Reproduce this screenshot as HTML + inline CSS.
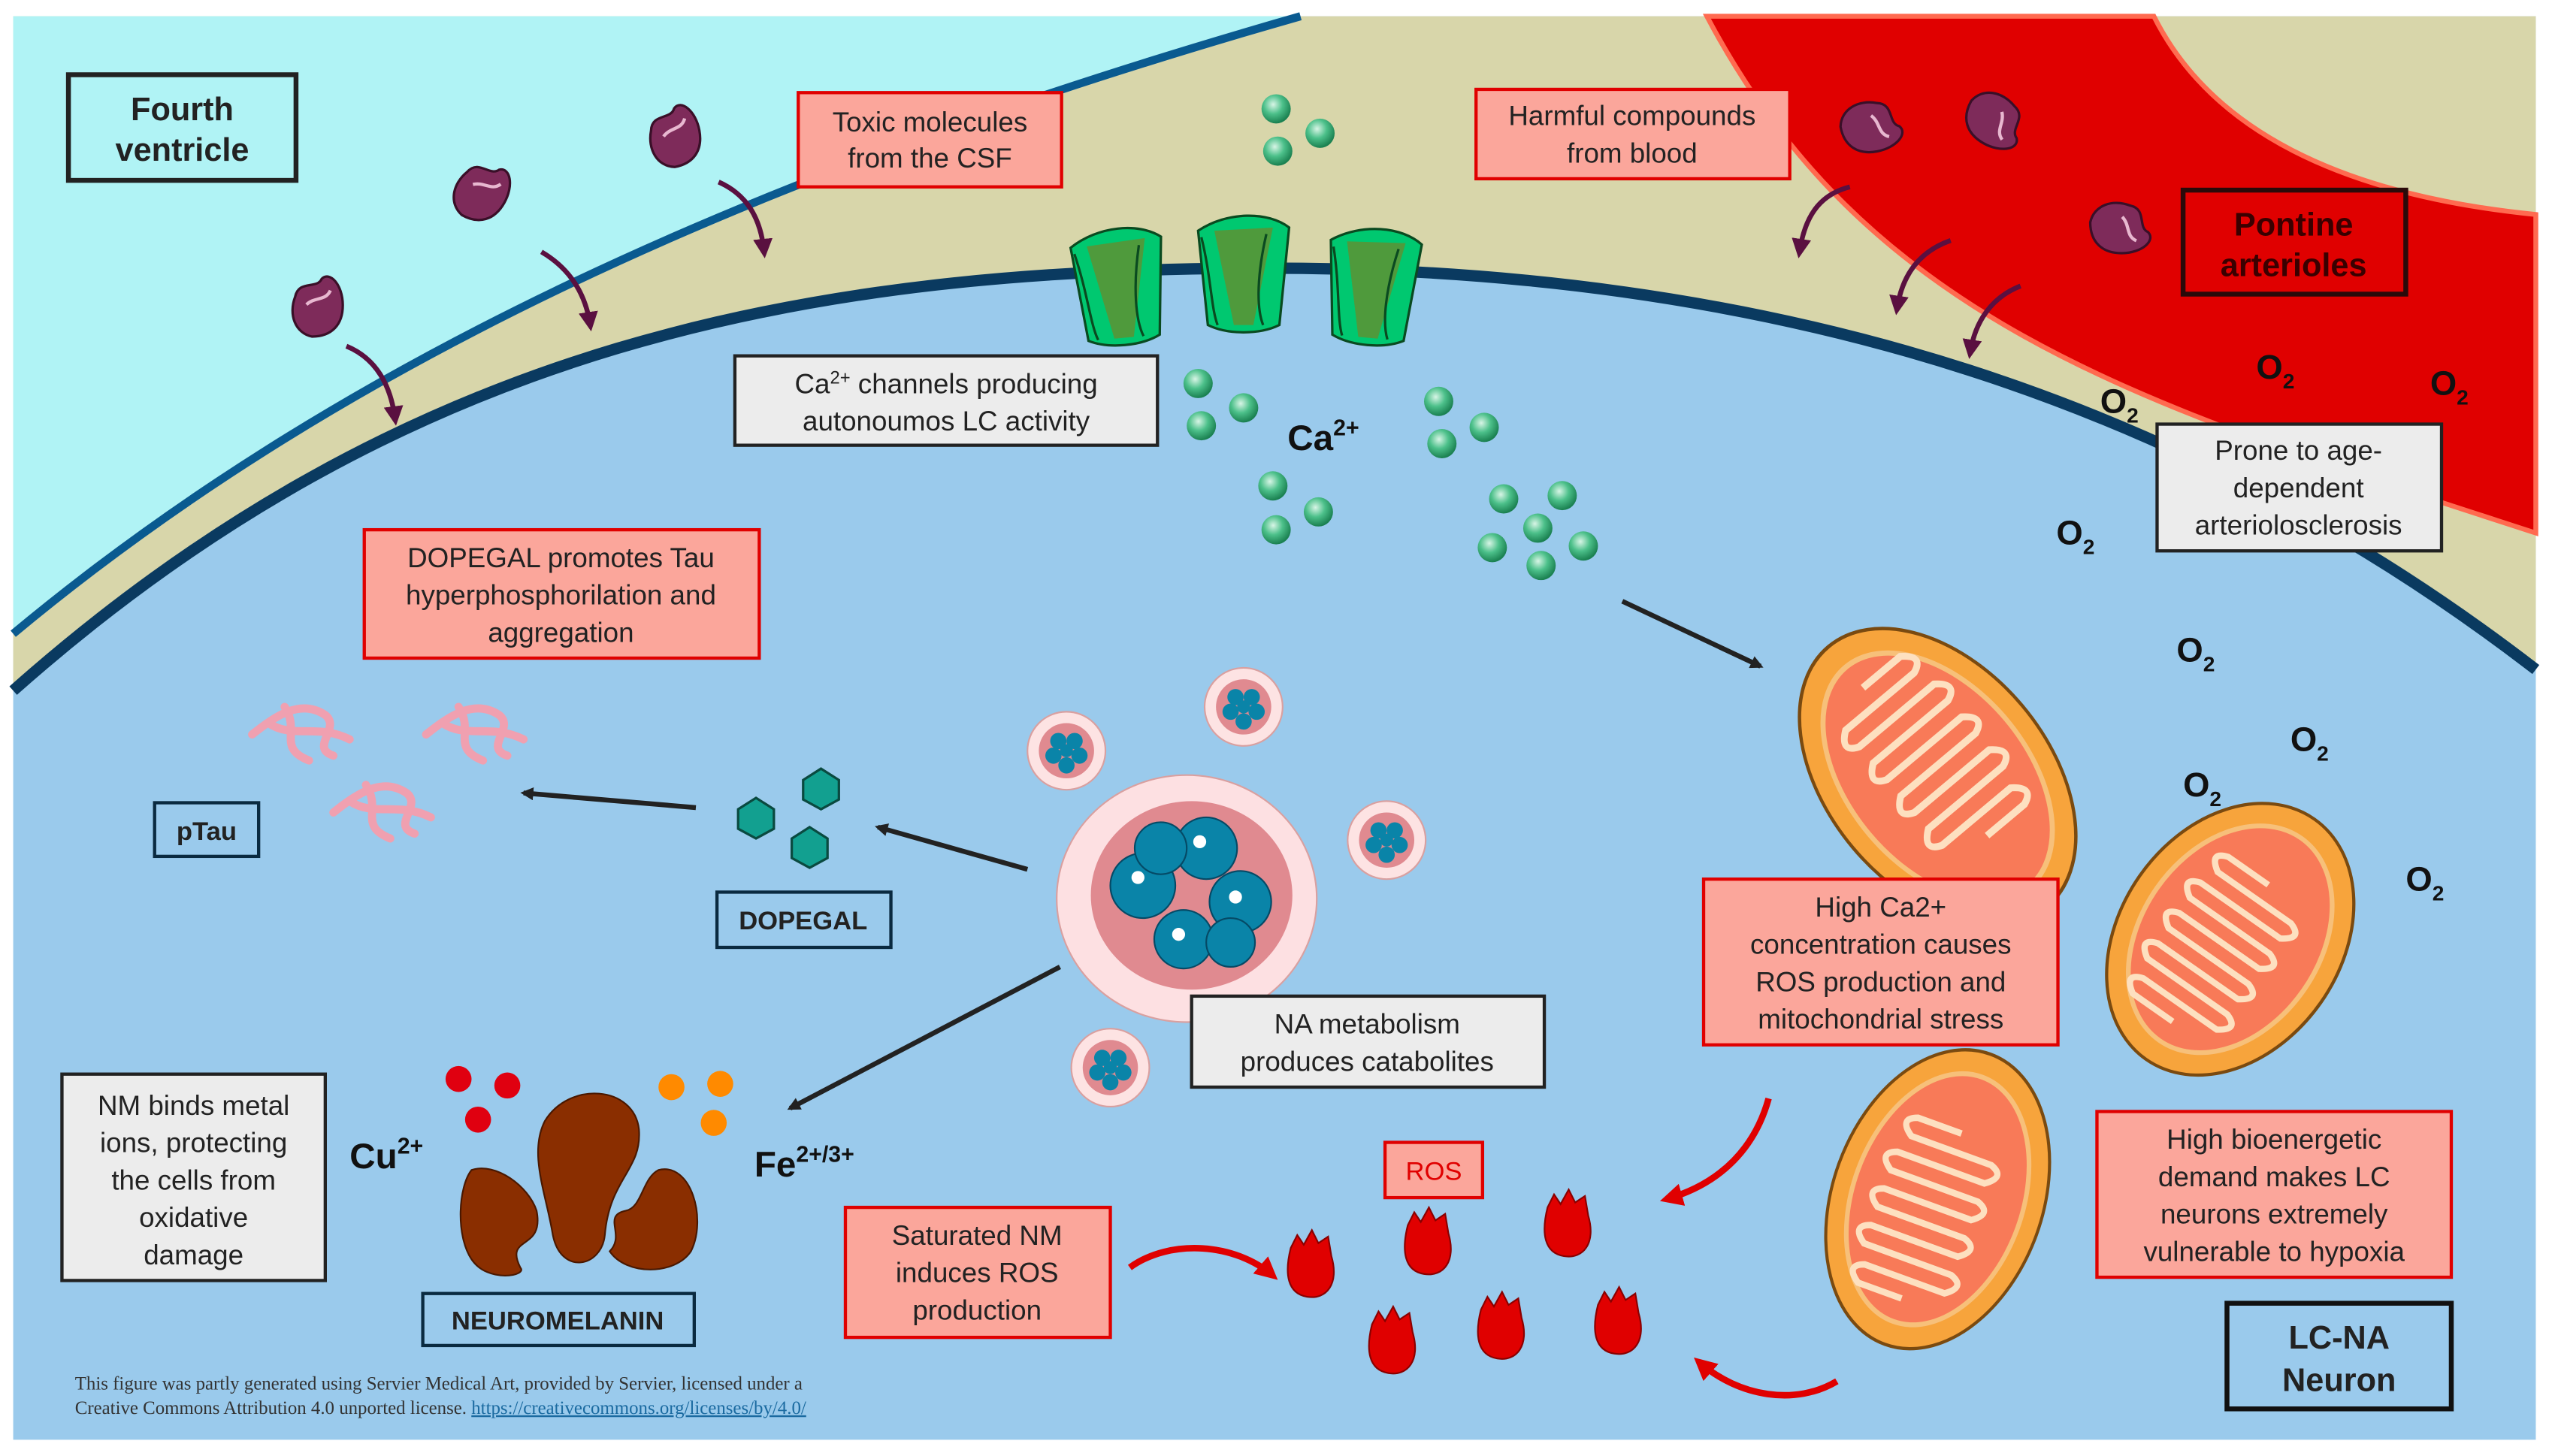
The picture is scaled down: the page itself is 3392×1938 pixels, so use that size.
<!DOCTYPE html>
<html><head><meta charset="utf-8"><style>
html,body{margin:0;padding:0;background:#fff;}
svg{display:block}
text{font-family:"Liberation Sans",Arial,sans-serif;}
</style></head><body>
<svg width="3392" height="1938" viewBox="0 0 1568 896" xmlns="http://www.w3.org/2000/svg">
<defs>
<marker id="ab" markerWidth="8" markerHeight="8" refX="6" refY="4" orient="auto" markerUnits="userSpaceOnUse"><path d="M0,0 L8,4 L0,8 z" fill="#222"/></marker>
<marker id="ar" markerWidth="14" markerHeight="14" refX="10" refY="7" orient="auto" markerUnits="userSpaceOnUse"><path d="M0,0 L14,7 L0,14 z" fill="#e00000"/></marker>
<marker id="ap" markerWidth="12" markerHeight="12" refX="8" refY="6" orient="auto" markerUnits="userSpaceOnUse"><path d="M0,0 L12,6 L0,12 z" fill="#5a1040"/></marker>
<radialGradient id="gd" cx="40%" cy="35%" r="65%"><stop offset="0" stop-color="#d8f5e6"/><stop offset="0.5" stop-color="#4cc08a"/><stop offset="1" stop-color="#1a8050"/></radialGradient>
<g id="ves"><circle r="24" fill="#fde3e3" stroke="#d9a0a0" stroke-width="1"/><circle r="17" fill="#e08a90"/><circle cx="-5" cy="-6" r="5" fill="#0a84a8"/><circle cx="5" cy="-6" r="5" fill="#0a84a8"/><circle cx="-8" cy="3" r="5" fill="#0a84a8"/><circle cx="8" cy="3" r="5" fill="#0a84a8"/><circle cx="0" cy="9" r="5" fill="#0a84a8"/><circle cx="0" cy="0" r="4" fill="#0a84a8"/></g>
<g id="mol"><path d="M-14,-10 C-10,-20 0,-12 4,-18 C10,-22 16,-12 14,0 C12,12 4,18 -8,16 C-18,12 -20,0 -14,-10 z" fill="#7e2b5a" stroke="#3a0f28" stroke-width="1.5"/><path d="M-8,-4 C-2,-8 4,-4 8,-10" stroke="#e8b8d0" stroke-width="2" fill="none"/></g>
<g id="ch"><path d="M-28,-18 C-10,-30 15,-30 28,-20 L22,40 C10,46 -10,46 -22,40 z" fill="#00c870" stroke="#0a4a20" stroke-width="1.5"/><path d="M-18,-18 L18,-20 L6,40 L-6,40 z" fill="#4f9a3c"/><path d="M-26,-14 C-20,10 -20,30 -16,40" stroke="#0a4a20" fill="none" stroke-width="1.5"/><path d="M14,-16 C8,10 8,30 12,40" stroke="#0a4a20" fill="none" stroke-width="1.5"/></g>
<g id="mito"><ellipse rx="95" ry="68" fill="#f7a43c" stroke="#7a4a10" stroke-width="2"/><ellipse rx="80" ry="55" fill="#f87a58" stroke="#f7c07a" stroke-width="3"/><path d="M-65,0 l0,-30 q8,-12 12,0 l0,55 q8,12 12,0 l0,-60 q8,-12 12,0 l0,60 q8,12 12,0 l0,-60 q8,-12 12,0 l0,60 q8,12 12,0 l0,-60 q8,-12 12,0 l0,60 q8,12 12,0 l0,-55 q8,-12 12,0 l0,30" stroke="#fde0c0" stroke-width="4" fill="none"/></g>
<g id="ros"><path d="M-14,-12 l4,-8 l4,6 l5,-9 l4,8 l6,-4 l2,12 C16,10 8,20 -4,18 C-16,16 -18,4 -14,-12 z" fill="#e00000" stroke="#8a0000" stroke-width="1"/></g>
</defs>
<rect width="1568" height="896" fill="#fff"/>
<!-- backgrounds -->
<rect x="8" y="10" width="1552" height="876" fill="#9acaec"/>
<path d="M8,10 L1560,10 L1560,412 C1350,250 1100,165 780,165 C500,165 250,210 8,425 z" fill="#d8d6aa"/>
<path d="M8,10 L800,10 C450,110 200,230 8,390 z" fill="#b0f3f5"/>
<path d="M8,390 C200,230 450,110 800,10" stroke="#0a5a90" stroke-width="5" fill="none"/>
<path d="M1050,10 L1325,10 C1360,80 1440,120 1560,132 L1560,328 C1320,250 1150,200 1050,10 z" fill="#e00000" stroke="#ff6a50" stroke-width="3"/>
<path d="M8,425 C250,210 500,165 780,165 C1100,165 1350,250 1560,412" stroke="#0a3a60" stroke-width="7" fill="none"/>
<!-- molecules -->
<use href="#mol" transform="translate(197,190) rotate(-10)"/>
<use href="#mol" transform="translate(297,120) rotate(20)"/>
<use href="#mol" transform="translate(417,85) rotate(-20)"/>
<use href="#mol" transform="translate(1150,80) rotate(70)"/>
<use href="#mol" transform="translate(1225,75) rotate(110)"/>
<use href="#mol" transform="translate(1303,142) rotate(80)"/>
<path d="M213,213 C230,220 240,235 243,258" stroke="#5a1040" stroke-width="3" fill="none" marker-end="url(#ap)"/>
<path d="M333,155 C350,165 360,180 363,200" stroke="#5a1040" stroke-width="3" fill="none" marker-end="url(#ap)"/>
<path d="M442,112 C460,120 468,135 470,155" stroke="#5a1040" stroke-width="3" fill="none" marker-end="url(#ap)"/>
<path d="M1138,115 C1118,120 1110,135 1107,155" stroke="#5a1040" stroke-width="3" fill="none" marker-end="url(#ap)"/>
<path d="M1200,148 C1180,155 1170,170 1167,190" stroke="#5a1040" stroke-width="3" fill="none" marker-end="url(#ap)"/>
<path d="M1243,176 C1225,183 1215,198 1212,217" stroke="#5a1040" stroke-width="3" fill="none" marker-end="url(#ap)"/>
<!-- channels -->
<use href="#ch" transform="translate(688,168) rotate(-5)"/>
<use href="#ch" transform="translate(765,160)"/>
<use href="#ch" transform="translate(845,168) rotate(5)"/>
<!-- Ca dots -->
<g fill="url(#gd)">
<circle cx="785" cy="67" r="9"/><circle cx="812" cy="82" r="9"/><circle cx="786" cy="93" r="9"/>
<circle cx="737" cy="236" r="9"/><circle cx="765" cy="251" r="9"/><circle cx="739" cy="262" r="9"/>
<circle cx="885" cy="247" r="9"/><circle cx="913" cy="263" r="9"/><circle cx="887" cy="273" r="9"/>
<circle cx="783" cy="299" r="9"/><circle cx="811" cy="315" r="9"/><circle cx="785" cy="326" r="9"/>
<circle cx="925" cy="307" r="9"/><circle cx="961" cy="305" r="9"/><circle cx="946" cy="325" r="9"/><circle cx="918" cy="337" r="9"/><circle cx="974" cy="336" r="9"/><circle cx="948" cy="348" r="9"/>
</g>
<text x="792" y="277" font-size="22" font-weight="bold" fill="#111">Ca<tspan font-size="14" dy="-9">2+</tspan></text>
<!-- O2 -->
<g font-size="21" font-weight="bold" fill="#111">
<text x="1292" y="254">O<tspan font-size="13" dy="6">2</tspan></text>
<text x="1388" y="233">O<tspan font-size="13" dy="6">2</tspan></text>
<text x="1495" y="243">O<tspan font-size="13" dy="6">2</tspan></text>
<text x="1265" y="335">O<tspan font-size="13" dy="6">2</tspan></text>
<text x="1339" y="407">O<tspan font-size="13" dy="6">2</tspan></text>
<text x="1409" y="462">O<tspan font-size="13" dy="6">2</tspan></text>
<text x="1343" y="490">O<tspan font-size="13" dy="6">2</tspan></text>
<text x="1480" y="548">O<tspan font-size="13" dy="6">2</tspan></text>
</g>
<!-- mitochondria -->
<use href="#mito" transform="translate(1192,478) rotate(50) scale(1.1,1.0)"/>
<use href="#mito" transform="translate(1372,578) rotate(-55) scale(0.95,1.0)"/>
<use href="#mito" transform="translate(1192,738) rotate(-70) scale(1.0,0.95)"/>
<!-- arrows black -->
<g stroke="#222" stroke-width="3" fill="none" marker-end="url(#ab)">
<line x1="998" y1="370" x2="1083" y2="410"/>
<line x1="632" y1="535" x2="540" y2="509"/>
<line x1="428" y1="497" x2="322" y2="488"/>
<line x1="652" y1="595" x2="486" y2="682"/>
</g>
<!-- vesicles -->
<ellipse cx="730" cy="553" rx="80" ry="76" fill="#fde0e2" stroke="#d9a0a0"/>
<ellipse cx="733" cy="551" rx="62" ry="58" fill="#e08a90"/>
<g fill="#0a84a8" stroke="#054a66">
<circle cx="703" cy="545" r="20"/><circle cx="742" cy="522" r="19"/><circle cx="714" cy="522" r="16"/><circle cx="763" cy="555" r="19"/><circle cx="728" cy="578" r="18"/><circle cx="757" cy="580" r="15"/>
</g>
<g fill="#fff"><circle cx="700" cy="540" r="4"/><circle cx="738" cy="518" r="4"/><circle cx="760" cy="552" r="4"/><circle cx="725" cy="575" r="4"/></g>
<use href="#ves" transform="translate(656,462)"/>
<use href="#ves" transform="translate(765,435)"/>
<use href="#ves" transform="translate(853,517)"/>
<use href="#ves" transform="translate(683,657)"/>
<!-- DOPEGAL hexagons -->
<g fill="#12a090" stroke="#0a4a40" stroke-width="1.5">
<polygon points="505,473 516,480 516,492 505,498 494,492 494,480"/>
<polygon points="465,491 476,498 476,510 465,516 454,510 454,498"/>
<polygon points="498,509 509,516 509,528 498,534 487,528 487,516"/>
</g>
<!-- pTau -->
<g stroke="#f0a0b0" stroke-width="5" fill="none" stroke-linecap="round">
<path d="M155,452 C170,440 185,430 200,440 C210,448 190,460 205,465 M165,445 C180,455 195,445 215,455 M175,435 C185,450 170,460 190,468"/>
<path d="M262,452 C277,440 292,430 307,440 C317,448 297,460 312,465 M272,445 C287,455 302,445 322,455 M282,435 C292,450 277,460 297,468"/>
<path d="M205,500 C220,488 235,478 250,488 C260,496 240,508 255,513 M215,493 C230,503 245,493 265,503 M225,483 C235,498 220,508 240,516"/>
</g>
<!-- neuromelanin -->
<g fill="#8a2e00" stroke="#4a1800" stroke-width="1">
<path d="M335,690 C350,665 390,668 393,695 C395,720 375,725 372,760 C370,780 345,785 340,760 C336,735 325,710 335,690 z"/>
<path d="M290,720 C305,715 325,730 330,745 C335,770 310,760 320,780 C325,785 300,790 290,775 C280,760 282,730 290,720 z"/>
<path d="M405,720 C425,715 435,750 425,770 C415,785 385,785 375,770 C385,760 370,748 385,745 C395,743 395,725 405,720 z"/>
</g>
<g fill="#e00010"><circle cx="282" cy="664" r="8"/><circle cx="312" cy="668" r="8"/><circle cx="294" cy="689" r="8"/></g>
<g fill="#ff8a00"><circle cx="413" cy="669" r="8"/><circle cx="443" cy="667" r="8"/><circle cx="439" cy="691" r="8"/></g>
<text x="215" y="719" font-size="22" font-weight="bold" fill="#111">Cu<tspan font-size="14" dy="-9">2+</tspan></text>
<text x="464" y="724" font-size="22" font-weight="bold" fill="#111">Fe<tspan font-size="14" dy="-9">2+/3+</tspan></text>
<!-- ROS -->
<use href="#ros" transform="translate(808,780)"/>
<use href="#ros" transform="translate(880,766)"/>
<use href="#ros" transform="translate(966,755)"/>
<use href="#ros" transform="translate(858,827)"/>
<use href="#ros" transform="translate(925,818)"/>
<use href="#ros" transform="translate(997,815)"/>
<g stroke="#e00000" stroke-width="4" fill="none" marker-end="url(#ar)">
<path d="M1088,676 C1080,705 1060,728 1025,738"/>
<path d="M695,780 C720,762 760,765 783,785"/>
<path d="M1130,850 C1105,865 1070,860 1045,838"/>
</g>
<!-- boxes -->
<g font-size="17" fill="#222" text-anchor="middle">
<rect x="42" y="46" width="140" height="65" fill="none" stroke="#222" stroke-width="3"/>
<text x="112" y="74" font-size="20" font-weight="bold">Fourth</text><text x="112" y="99" font-size="20" font-weight="bold">ventricle</text>
<rect x="491" y="57" width="162" height="58" fill="#fba69b" stroke="#e00000" stroke-width="2"/>
<text x="572" y="81">Toxic molecules</text><text x="572" y="103">from the CSF</text>
<rect x="908" y="55" width="193" height="55" fill="#fba69b" stroke="#e00000" stroke-width="2"/>
<text x="1004" y="77">Harmful compounds</text><text x="1004" y="100">from blood</text>
<rect x="1343" y="117" width="137" height="64" fill="#e00000" stroke="#2a0a0a" stroke-width="3"/>
<text x="1411" y="145" font-size="20" font-weight="bold" fill="#3a0000">Pontine</text><text x="1411" y="170" font-size="20" font-weight="bold" fill="#3a0000">arterioles</text>
<rect x="452" y="219" width="260" height="55" fill="#ececec" stroke="#222" stroke-width="2"/>
<text x="582" y="242">Ca<tspan font-size="11" dy="-6">2+</tspan><tspan dy="6"> channels producing</tspan></text><text x="582" y="265">autonoumos LC activity</text>
<rect x="1327" y="261" width="175" height="78" fill="#ececec" stroke="#222" stroke-width="2"/>
<text x="1414" y="283">Prone to age-</text><text x="1414" y="306">dependent</text><text x="1414" y="329">arteriolosclerosis</text>
<rect x="224" y="326" width="243" height="79" fill="#fba69b" stroke="#e00000" stroke-width="2"/>
<text x="345" y="349">DOPEGAL promotes Tau</text><text x="345" y="372">hyperphosphorilation and</text><text x="345" y="395">aggregation</text>
<rect x="95" y="494" width="64" height="33" fill="none" stroke="#0a2a40" stroke-width="2"/>
<text x="127" y="517" font-size="16" font-weight="bold">pTau</text>
<rect x="441" y="549" width="107" height="34" fill="none" stroke="#0a2a40" stroke-width="2"/>
<text x="494" y="572" font-size="16" font-weight="bold">DOPEGAL</text>
<rect x="733" y="613" width="217" height="56" fill="#ececec" stroke="#222" stroke-width="2"/>
<text x="841" y="636">NA metabolism</text><text x="841" y="659">produces catabolites</text>
<rect x="1048" y="541" width="218" height="102" fill="#fba69b" stroke="#e00000" stroke-width="2"/>
<text x="1157" y="564">High Ca2+</text><text x="1157" y="587">concentration causes</text><text x="1157" y="610">ROS production and</text><text x="1157" y="633">mitochondrial stress</text>
<rect x="38" y="661" width="162" height="127" fill="#ececec" stroke="#222" stroke-width="2"/>
<text x="119" y="686">NM binds metal</text><text x="119" y="709">ions, protecting</text><text x="119" y="732">the cells from</text><text x="119" y="755">oxidative</text><text x="119" y="778">damage</text>
<rect x="260" y="796" width="167" height="32" fill="none" stroke="#0a2a40" stroke-width="2"/>
<text x="343" y="818" font-size="16" font-weight="bold">NEUROMELANIN</text>
<rect x="852" y="703" width="60" height="34" fill="#fba69b" stroke="#e00000" stroke-width="2"/>
<text x="882" y="726" font-size="16" fill="#e00000">ROS</text>
<rect x="520" y="743" width="163" height="80" fill="#fba69b" stroke="#e00000" stroke-width="2"/>
<text x="601" y="766">Saturated NM</text><text x="601" y="789">induces ROS</text><text x="601" y="812">production</text>
<rect x="1290" y="684" width="218" height="102" fill="#fba69b" stroke="#e00000" stroke-width="2"/>
<text x="1399" y="707">High bioenergetic</text><text x="1399" y="730">demand makes LC</text><text x="1399" y="753">neurons extremely</text><text x="1399" y="776">vulnerable to hypoxia</text>
<rect x="1370" y="802" width="138" height="65" fill="none" stroke="#111" stroke-width="3"/>
<text x="1439" y="830" font-size="20" font-weight="bold">LC-NA</text><text x="1439" y="856" font-size="20" font-weight="bold">Neuron</text>
</g>
<g font-family="Liberation Serif,serif" font-size="11.5" fill="#333">
<text x="46" y="855" style="font-family:'Liberation Serif',serif">This figure was partly generated using Servier Medical Art, provided by Servier, licensed under a</text>
<text x="46" y="870" style="font-family:'Liberation Serif',serif">Creative Commons Attribution 4.0 unported license.  <tspan fill="#1a6aa0" text-decoration="underline">https://creativecommons.org/licenses/by/4.0/</tspan></text>
</g>
</svg>
</body></html>
